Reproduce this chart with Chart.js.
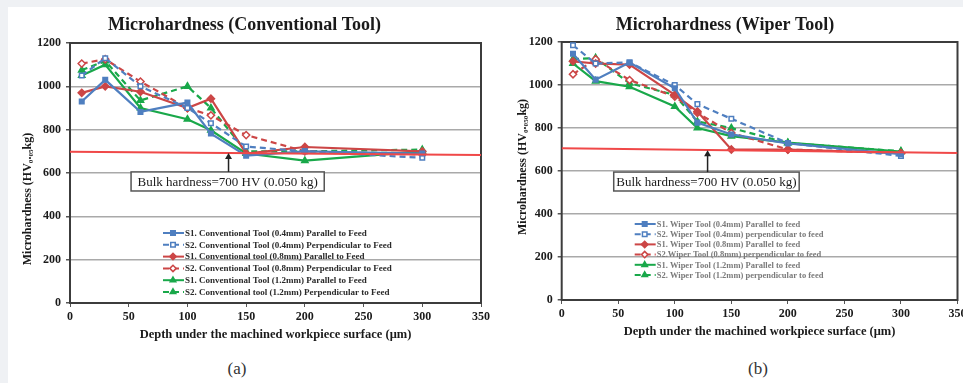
<!DOCTYPE html>
<html lang="en">
<head>
<meta charset="UTF-8">
<title>Microhardness - Conventional vs Wiper Tool</title>
<script src="https://cdn.jsdelivr.net/npm/chart.js"></script>
<style>
    body { margin: 0; background: #eff1f4; width: 963px; height: 383px; overflow: hidden; position: relative; font-family: 'Liberation Serif', serif; }
    .panel { position: absolute; left: 8px; top: 7px; right: 0; bottom: 0; background: #fff; }
    canvas { position: absolute; }
    #convChart { left: 8px; top: 7px; }
    #wiperChart { left: 490px; top: 7px; }
    .caption { position: absolute; top: 359px; font-size: 17px; color: #333; width: 40px; text-align: center; }
</style>
</head>
<body>
<div class="panel"></div>
<canvas id="convChart" width="495" height="340"></canvas>
<canvas id="wiperChart" width="473" height="340"></canvas>
<div class="caption" style="left:217px">(a)</div>
<div class="caption" style="left:738px">(b)</div>

<script>
// depth values (µm) shared by every series
const depthUm = [10, 30, 60, 100, 120, 150, 200, 300];
const xTicks = [0, 50, 100, 150, 200, 250, 300, 350];
const yTicks = [0, 200, 400, 600, 800, 1000, 1200];

// (a) conventional tool
const convLabels = [
    'S1. Conventional Tool (0.4mm) Parallel to Feed',
    'S2. Conventional Tool (0.4mm) Perpendicular to Feed',
    'S1. Conventional tool (0.8mm) Parallel to Feed',
    'S2. Conventional Tool (0.8mm) Perpendicular to Feed',
    'S1. Conventional Tool (1.2mm) Parallel to Feed',
    'S2. Conventional tool (1.2mm) Perpendicular to Feed'
];
const convS1_04 = [930, 1030, 882, 925, 782, 680, 700, 690];
const convS2_04 = [1050, 1130, 1000, 900, 830, 722, 700, 670];
const convS1_08 = [970, 1000, 975, 900, 943, 690, 720, 700];
const convS2_08 = [1105, 1125, 1022, 900, 866, 775, 700, 685];
const convS1_12 = [1050, 1100, 900, 848, 797, 690, 657, 700];
const convS2_12 = [1075, 1117, 935, 1000, 900, 700, 700, 708];

// (b) wiper tool
const wiperLabels = [
    'S1. Wiper Tool (0.4mm) Parallel to feed',
    'S2. Wiper Tool (0.4mm) perpendicular to feed',
    'S1. Wiper Tool (0.8mm) Parallel to feed',
    'S2.Wiper Tool (0.8mm) perpendicular to feed',
    'S1. Wiper Tool (1.2mm) Parallel to feed',
    'S2. Wiper Tool (1.2mm) perpendicular to feed'
];
const wipS1_04 = [1145, 1025, 1105, 985, 825, 770, 728, 678];
const wipS2_04 = [1185, 1100, 1105, 1000, 911, 843, 730, 670];
const wipS1_08 = [1110, 1100, 1095, 954, 877, 700, 700, 683];
const wipS2_08 = [1050, 1120, 1023, 946, 870, 777, 700, 683];
const wipS1_12 = [1100, 1018, 992, 900, 800, 762, 732, 690];
const wipS2_12 = [1120, 1126, 1008, 954, 830, 800, 730, 692];

// bulk hardness reference line (slightly tilted in the original)
const bulkX = [0, 350];
const convBulk = [698, 683];
const wiperBulk = [706, 684];
const bulkNote = 'Bulk hardness=700 HV (0.050 kg)';

const SERIF = "'Liberation Serif', 'DejaVu Serif', serif";
const BLUE = '#4f7fc0', RED = '#cc4646', GREEN = '#19a84a';

// style for the six series, same order as the label arrays
const seriesStyle = [
    { color: BLUE, style: 'rect', open: false, dash: [] },
    { color: BLUE, style: 'rect', open: true, dash: [6, 4] },
    { color: RED, style: 'rectRot', open: false, dash: [] },
    { color: RED, style: 'rectRot', open: true, dash: [6, 4] },
    { color: GREEN, style: 'triangle', open: false, dash: [] },
    { color: GREEN, style: 'triangle', open: false, dash: [6, 4] }
];

function pairs(xs, ys) {
    return xs.map((x, i) => ({ x: x, y: ys[i] }));
}

function buildDatasets(labels, series, bulk) {
    const sets = series.map((vals, i) => {
        const st = seriesStyle[i];
        return {
            label: labels[i],
            data: pairs(depthUm, vals),
            borderColor: st.color,
            backgroundColor: st.color,
            borderWidth: 2.2,
            borderDash: st.dash,
            pointStyle: st.style,
            pointRadius: st.style === 'rect' ? 3.2 : 3.6,
            pointBorderWidth: 1.5,
            pointBorderColor: st.color,
            pointBackgroundColor: st.open ? '#fff' : st.color,
            tension: 0
        };
    });
    sets.unshift({
        label: 'bulk',
        noLegend: true,
        data: pairs(bulkX, bulk),
        borderColor: '#f04848',
        borderWidth: 2,
        pointRadius: 0
    });
    return sets;
}

// frame, y title, bulk hardness note and the in-plot legend
const overlay = {
    id: 'overlay',
    beforeDatasetsDraw(chart) {
        const { ctx, chartArea: a } = chart;
        ctx.save();
        ctx.strokeStyle = '#3c3c3c';
        ctx.lineWidth = 2;
        ctx.strokeRect(a.left, a.top, a.right - a.left, a.bottom - a.top);
        ctx.restore();
    },
    afterDraw(chart, args, opts) {
        const { ctx, chartArea: a, scales: { x, y } } = chart;
        ctx.save();

        // rotated y axis title
        ctx.translate(opts.yTitleX, opts.yTitleY);
        ctx.rotate(-Math.PI / 2);
        ctx.font = 'bold 12px ' + SERIF;
        ctx.fillStyle = '#1a1a1a';
        ctx.textAlign = 'center';
        ctx.textBaseline = 'middle';
        ctx.fillText(opts.yTitle, 0, 0);
        ctx.setTransform(1, 0, 0, 1, 0, 0);

        // note box + arrow
        const n = opts.note;
        const bx1 = x.getPixelForValue(n.x0), bx2 = x.getPixelForValue(n.x1);
        const by1 = y.getPixelForValue(n.yTop), by2 = y.getPixelForValue(n.yBottom);
        ctx.fillStyle = '#fff';
        ctx.fillRect(bx1, by1, bx2 - bx1, by2 - by1);
        ctx.strokeStyle = '#555';
        ctx.lineWidth = 1.5;
        ctx.strokeRect(bx1, by1, bx2 - bx1, by2 - by1);
        ctx.fillStyle = '#1a1a1a';
        ctx.font = '13px ' + SERIF;
        ctx.textAlign = 'center';
        ctx.textBaseline = 'middle';
        ctx.fillText(bulkNote, (bx1 + bx2) / 2, (by1 + by2) / 2 + 1);

        const ax = x.getPixelForValue(n.arrowX);
        const ay = y.getPixelForValue(n.arrowTo);
        ctx.strokeStyle = '#222';
        ctx.lineWidth = 1.5;
        ctx.beginPath();
        ctx.moveTo(ax, by1);
        ctx.lineTo(ax, ay + 4);
        ctx.stroke();
        ctx.fillStyle = '#222';
        ctx.beginPath();
        ctx.moveTo(ax, ay);
        ctx.lineTo(ax - 3.5, ay + 6);
        ctx.lineTo(ax + 3.5, ay + 6);
        ctx.closePath();
        ctx.fill();

        // legend inside the plot (transparent, like the original)
        const lg = opts.legend;
        let row = 0;
        chart.data.datasets.forEach(ds => {
            if (ds.noLegend) return;
            const lx = a.left + lg.dx;
            const ly = a.top + lg.dy + row * lg.step;
            ctx.strokeStyle = ds.borderColor;
            ctx.lineWidth = 2;
            ctx.setLineDash(ds.borderDash);
            ctx.beginPath();
            ctx.moveTo(lx, ly);
            ctx.lineTo(lx + 21, ly);
            ctx.stroke();
            ctx.setLineDash([]);
            ctx.fillStyle = ds.pointBackgroundColor;
            ctx.strokeStyle = ds.borderColor;
            ctx.lineWidth = 1.5;
            Chart.helpers.drawPoint(ctx, { pointStyle: ds.pointStyle, radius: 3.2, borderWidth: 1.5, rotation: 0 }, lx + 10, ly);
            ctx.fillStyle = lg.color;
            ctx.font = 'bold ' + lg.size + 'px ' + SERIF;
            ctx.textAlign = 'left';
            ctx.fillText(ds.label, lx + 22, ly + 0.5);
            row++;
        });
        ctx.restore();
    }
};

function makeChart(id, title, datasets, cfg) {
    const tickFont = { family: SERIF, size: 12, weight: 'bold' };
    return new Chart(document.getElementById(id), {
        type: 'line',
        data: { datasets: datasets },
        plugins: [overlay],
        options: {
            responsive: false,
            animation: false,
            layout: { padding: { left: 0, right: cfg.padRight, top: 0, bottom: cfg.padBottom } },
            plugins: {
                legend: { display: false },
                tooltip: { enabled: false },
                title: {
                    display: true,
                    text: title,
                    color: '#1a1a1a',
                    font: { family: SERIF, size: 18, weight: 'bold' },
                    padding: { top: cfg.titleTop, bottom: cfg.titleBottom }
                },
                overlay: cfg.overlay
            },
            scales: {
                x: {
                    type: 'linear',
                    min: 0,
                    max: 350,
                    afterBuildTicks: s => { s.ticks = xTicks.map(v => ({ value: v })); },
                    afterFit: s => { s.paddingLeft = 0; s.paddingRight = 0; },
                    ticks: { font: tickFont, color: '#1a1a1a', padding: 3, maxRotation: 0, callback: v => String(v) },
                    grid: { drawOnChartArea: false, tickLength: 4, color: '#555' },
                    border: { display: false },
                    title: {
                        display: true,
                        text: 'Depth under the machined workpiece surface (\u03bcm)',
                        color: '#1a1a1a',
                        font: { family: SERIF, size: 12.5, weight: 'bold' },
                        padding: { top: 0, bottom: cfg.xTitleBottom }
                    }
                },
                y: {
                    min: 0,
                    max: 1200,
                    afterBuildTicks: s => { s.ticks = yTicks.map(v => ({ value: v })); },
                    afterFit: s => { s.width = cfg.yWidth; s.paddingTop = 0; s.paddingBottom = 0; },
                    ticks: { font: tickFont, color: '#1a1a1a', padding: 5, callback: v => String(v) },
                    grid: { color: '#a9a9a9', lineWidth: 1.5, tickLength: 4, tickColor: '#555' },
                    border: { display: false }
                }
            }
        }
    });
}

makeChart('convChart', 'Microhardness (Conventional Tool)',
    buildDatasets(convLabels, [convS1_04, convS2_04, convS1_08, convS2_08, convS1_12, convS2_12], convBulk),
    {
        padRight: 22, padBottom: 0, titleTop: 8, titleBottom: 6.4, xTitleBottom: 4.6, yWidth: 62,
        overlay: {
            yTitle: 'Microhardness (HV\u2080.\u2080\u2085kg)', yTitleX: 20, yTitleY: 192,
            note: { x0: 52, x1: 216.5, yTop: 605, yBottom: 517, arrowX: 135, arrowTo: 692 },
            legend: { dx: 93, dy: 190, step: 11.8, size: 9, color: '#2a2a2a' }
        }
    });

makeChart('wiperChart', 'Microhardness (Wiper Tool)',
    buildDatasets(wiperLabels, [wipS1_04, wipS2_04, wipS1_08, wipS2_08, wipS1_12, wipS2_12], wiperBulk),
    {
        padRight: 3, padBottom: 3, titleTop: 7.2, titleBottom: 6.2, xTitleBottom: 4.6, yWidth: 71.7,
        overlay: {
            yTitle: 'Microhardness (HV\u2080.\u2080\u2085\u2080kg)', yTitleX: 33, yTitleY: 160,
            note: { x0: 46, x1: 210, yTop: 595, yBottom: 507, arrowX: 129, arrowTo: 696 },
            legend: { dx: 73, dy: 182, step: 10.2, size: 8.5, color: '#7a7a7a' }
        }
    });
</script>
</body>
</html>
